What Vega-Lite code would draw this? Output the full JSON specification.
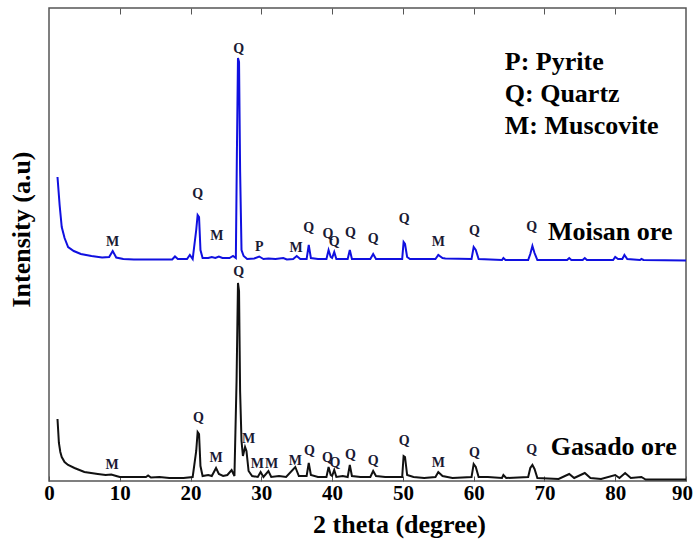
{
  "$schema": "https://vega.github.io/schema/vega-lite/v6.json",
  "width": 637,
  "height": 473,
  "autosize": "none",
  "padding": {"left": 49, "top": 8, "right": 8, "bottom": 67},
  "background": "white",
  "config": {"view": {"stroke": "#555555", "strokeWidth": 1.5}, "font": "Liberation Serif"},
  "datasets": {
    "xrd": [
      {"ore":"Moisan","t":1.2,"v":304},{"ore":"Moisan","t":1.5,"v":276},{"ore":"Moisan","t":1.8,"v":254},{"ore":"Moisan","t":2.2,"v":243},{"ore":"Moisan","t":2.7,"v":234},{"ore":"Moisan","t":3.5,"v":230},{"ore":"Moisan","t":4.5,"v":227},{"ore":"Moisan","t":6,"v":225},{"ore":"Moisan","t":7.5,"v":223.5},{"ore":"Moisan","t":8.5,"v":224},{"ore":"Moisan","t":9.0,"v":230},{"ore":"Moisan","t":9.5,"v":223.5},{"ore":"Moisan","t":10.5,"v":222},{"ore":"Moisan","t":12,"v":221.5},{"ore":"Moisan","t":15,"v":221.5},{"ore":"Moisan","t":17.4,"v":221.5},{"ore":"Moisan","t":17.8,"v":224.5},{"ore":"Moisan","t":18.2,"v":222},{"ore":"Moisan","t":19.5,"v":222},{"ore":"Moisan","t":19.9,"v":226},{"ore":"Moisan","t":20.3,"v":222},{"ore":"Moisan","t":20.8,"v":251},{"ore":"Moisan","t":21.0,"v":266},{"ore":"Moisan","t":21.2,"v":264},{"ore":"Moisan","t":21.4,"v":231},{"ore":"Moisan","t":21.7,"v":223},{"ore":"Moisan","t":22.5,"v":223},{"ore":"Moisan","t":23.0,"v":224},{"ore":"Moisan","t":23.5,"v":223},{"ore":"Moisan","t":24.0,"v":224.5},{"ore":"Moisan","t":24.5,"v":223},{"ore":"Moisan","t":25.5,"v":223},{"ore":"Moisan","t":26.0,"v":225},{"ore":"Moisan","t":26.4,"v":223},{"ore":"Moisan","t":26.55,"v":330},{"ore":"Moisan","t":26.7,"v":423},{"ore":"Moisan","t":26.85,"v":419},{"ore":"Moisan","t":27.0,"v":311},{"ore":"Moisan","t":27.2,"v":231},{"ore":"Moisan","t":27.5,"v":225},{"ore":"Moisan","t":28,"v":222},{"ore":"Moisan","t":29.0,"v":222.5},{"ore":"Moisan","t":29.7,"v":224.5},{"ore":"Moisan","t":30.3,"v":222},{"ore":"Moisan","t":31,"v":222.5},{"ore":"Moisan","t":32,"v":222},{"ore":"Moisan","t":33.1,"v":223},{"ore":"Moisan","t":33.6,"v":221.5},{"ore":"Moisan","t":34.5,"v":222},{"ore":"Moisan","t":35.0,"v":225},{"ore":"Moisan","t":35.5,"v":222},{"ore":"Moisan","t":36.4,"v":222},{"ore":"Moisan","t":36.7,"v":236},{"ore":"Moisan","t":37.0,"v":223},{"ore":"Moisan","t":38,"v":222},{"ore":"Moisan","t":39.2,"v":222},{"ore":"Moisan","t":39.5,"v":231},{"ore":"Moisan","t":39.8,"v":224},{"ore":"Moisan","t":40.0,"v":223},{"ore":"Moisan","t":40.3,"v":229},{"ore":"Moisan","t":40.6,"v":222},{"ore":"Moisan","t":42.2,"v":222},{"ore":"Moisan","t":42.5,"v":231},{"ore":"Moisan","t":42.8,"v":222},{"ore":"Moisan","t":45.4,"v":222},{"ore":"Moisan","t":45.8,"v":227},{"ore":"Moisan","t":46.2,"v":222},{"ore":"Moisan","t":49.9,"v":222},{"ore":"Moisan","t":50.1,"v":239},{"ore":"Moisan","t":50.3,"v":237},{"ore":"Moisan","t":50.6,"v":224},{"ore":"Moisan","t":51,"v":222},{"ore":"Moisan","t":54.6,"v":222},{"ore":"Moisan","t":55.0,"v":226},{"ore":"Moisan","t":55.6,"v":223},{"ore":"Moisan","t":56,"v":222.5},{"ore":"Moisan","t":59.7,"v":222},{"ore":"Moisan","t":60.0,"v":234},{"ore":"Moisan","t":60.3,"v":231},{"ore":"Moisan","t":60.7,"v":222},{"ore":"Moisan","t":64,"v":221},{"ore":"Moisan","t":64.2,"v":223},{"ore":"Moisan","t":64.5,"v":221},{"ore":"Moisan","t":67.7,"v":221},{"ore":"Moisan","t":68.0,"v":227},{"ore":"Moisan","t":68.3,"v":235},{"ore":"Moisan","t":68.6,"v":228},{"ore":"Moisan","t":69.0,"v":221},{"ore":"Moisan","t":73.2,"v":221},{"ore":"Moisan","t":73.5,"v":223},{"ore":"Moisan","t":73.8,"v":221},{"ore":"Moisan","t":75.4,"v":221},{"ore":"Moisan","t":75.7,"v":223},{"ore":"Moisan","t":76,"v":221},{"ore":"Moisan","t":79.7,"v":221},{"ore":"Moisan","t":80.0,"v":224},{"ore":"Moisan","t":80.4,"v":222},{"ore":"Moisan","t":81.0,"v":222},{"ore":"Moisan","t":81.3,"v":226},{"ore":"Moisan","t":81.7,"v":222},{"ore":"Moisan","t":83.5,"v":221},{"ore":"Moisan","t":83.7,"v":222},{"ore":"Moisan","t":84,"v":221},{"ore":"Moisan","t":90,"v":220.5},
      {"ore":"Gasado","t":1.2,"v":62},{"ore":"Gasado","t":1.4,"v":38},{"ore":"Gasado","t":1.6,"v":29},{"ore":"Gasado","t":1.8,"v":24},{"ore":"Gasado","t":2.2,"v":19},{"ore":"Gasado","t":2.7,"v":16},{"ore":"Gasado","t":3.6,"v":13},{"ore":"Gasado","t":5,"v":9},{"ore":"Gasado","t":6.9,"v":7},{"ore":"Gasado","t":8.0,"v":6},{"ore":"Gasado","t":8.8,"v":6.5},{"ore":"Gasado","t":9.5,"v":5},{"ore":"Gasado","t":10,"v":4},{"ore":"Gasado","t":12,"v":4},{"ore":"Gasado","t":13.7,"v":4},{"ore":"Gasado","t":14.0,"v":5.5},{"ore":"Gasado","t":14.4,"v":3.5},{"ore":"Gasado","t":15.6,"v":4},{"ore":"Gasado","t":17,"v":3},{"ore":"Gasado","t":19,"v":3},{"ore":"Gasado","t":20.3,"v":4},{"ore":"Gasado","t":20.8,"v":30},{"ore":"Gasado","t":21.0,"v":49},{"ore":"Gasado","t":21.2,"v":47},{"ore":"Gasado","t":21.4,"v":15},{"ore":"Gasado","t":21.7,"v":5},{"ore":"Gasado","t":22.5,"v":6},{"ore":"Gasado","t":23.0,"v":5},{"ore":"Gasado","t":23.6,"v":13},{"ore":"Gasado","t":24.0,"v":7},{"ore":"Gasado","t":24.6,"v":5},{"ore":"Gasado","t":25.2,"v":6},{"ore":"Gasado","t":25.8,"v":11},{"ore":"Gasado","t":26.2,"v":5},{"ore":"Gasado","t":26.5,"v":100},{"ore":"Gasado","t":26.7,"v":198},{"ore":"Gasado","t":26.85,"v":190},{"ore":"Gasado","t":27.0,"v":90},{"ore":"Gasado","t":27.2,"v":40},{"ore":"Gasado","t":27.4,"v":25},{"ore":"Gasado","t":27.7,"v":34},{"ore":"Gasado","t":27.9,"v":30},{"ore":"Gasado","t":28.2,"v":10},{"ore":"Gasado","t":28.7,"v":5},{"ore":"Gasado","t":29.5,"v":4},{"ore":"Gasado","t":29.9,"v":9},{"ore":"Gasado","t":30.3,"v":4},{"ore":"Gasado","t":31.0,"v":10},{"ore":"Gasado","t":31.4,"v":4},{"ore":"Gasado","t":32.5,"v":5},{"ore":"Gasado","t":33.5,"v":4},{"ore":"Gasado","t":34.8,"v":14},{"ore":"Gasado","t":35.3,"v":5},{"ore":"Gasado","t":36.4,"v":5},{"ore":"Gasado","t":36.7,"v":18},{"ore":"Gasado","t":37.0,"v":6},{"ore":"Gasado","t":38,"v":4},{"ore":"Gasado","t":39.2,"v":4},{"ore":"Gasado","t":39.5,"v":14},{"ore":"Gasado","t":39.8,"v":6},{"ore":"Gasado","t":40.0,"v":5},{"ore":"Gasado","t":40.3,"v":11},{"ore":"Gasado","t":40.6,"v":4},{"ore":"Gasado","t":41.5,"v":5},{"ore":"Gasado","t":42.2,"v":4},{"ore":"Gasado","t":42.5,"v":16},{"ore":"Gasado","t":42.8,"v":5},{"ore":"Gasado","t":44,"v":4},{"ore":"Gasado","t":45.4,"v":4},{"ore":"Gasado","t":45.8,"v":10},{"ore":"Gasado","t":46.2,"v":5},{"ore":"Gasado","t":47.5,"v":4},{"ore":"Gasado","t":49.9,"v":4},{"ore":"Gasado","t":50.1,"v":25},{"ore":"Gasado","t":50.3,"v":24},{"ore":"Gasado","t":50.6,"v":6},{"ore":"Gasado","t":51.5,"v":4},{"ore":"Gasado","t":53,"v":3},{"ore":"Gasado","t":54.6,"v":4},{"ore":"Gasado","t":55.0,"v":9},{"ore":"Gasado","t":55.6,"v":5},{"ore":"Gasado","t":57,"v":3},{"ore":"Gasado","t":59.7,"v":4},{"ore":"Gasado","t":60.0,"v":17},{"ore":"Gasado","t":60.3,"v":14},{"ore":"Gasado","t":60.7,"v":4},{"ore":"Gasado","t":62,"v":4},{"ore":"Gasado","t":64.0,"v":3},{"ore":"Gasado","t":64.2,"v":6},{"ore":"Gasado","t":64.6,"v":3},{"ore":"Gasado","t":67.7,"v":4},{"ore":"Gasado","t":68.0,"v":13},{"ore":"Gasado","t":68.3,"v":16},{"ore":"Gasado","t":68.6,"v":12},{"ore":"Gasado","t":69.0,"v":3},{"ore":"Gasado","t":72,"v":2},{"ore":"Gasado","t":73.5,"v":7},{"ore":"Gasado","t":74.2,"v":3},{"ore":"Gasado","t":75.7,"v":8},{"ore":"Gasado","t":76.5,"v":3},{"ore":"Gasado","t":78,"v":2},{"ore":"Gasado","t":80.0,"v":6},{"ore":"Gasado","t":80.6,"v":3},{"ore":"Gasado","t":81.4,"v":8},{"ore":"Gasado","t":82.2,"v":3},{"ore":"Gasado","t":83.7,"v":4},{"ore":"Gasado","t":84.3,"v":1.5},{"ore":"Gasado","t":90,"v":1.5}
    ],
    "peaks": [
      {"t":9.0,"v":239,"s":"M"},{"t":21.0,"v":287,"s":"Q"},{"t":23.7,"v":245,"s":"M"},{"t":26.8,"v":432,"s":"Q"},{"t":29.7,"v":234,"s":"P"},{"t":34.9,"v":233,"s":"M"},{"t":36.7,"v":253,"s":"Q"},{"t":39.4,"v":247,"s":"Q"},{"t":40.3,"v":239,"s":"Q"},{"t":42.6,"v":248,"s":"Q"},{"t":45.8,"v":242,"s":"Q"},{"t":50.2,"v":262,"s":"Q"},{"t":55.0,"v":239,"s":"M"},{"t":60.1,"v":250,"s":"Q"},{"t":68.2,"v":254,"s":"Q"},
      {"t":8.9,"v":16,"s":"M"},{"t":21.1,"v":63,"s":"Q"},{"t":23.6,"v":23,"s":"M"},{"t":26.8,"v":209,"s":"Q"},{"t":28.2,"v":42,"s":"M"},{"t":29.45,"v":17,"s":"M"},{"t":31.45,"v":17,"s":"M"},{"t":34.8,"v":20,"s":"M"},{"t":36.8,"v":30,"s":"Q"},{"t":39.35,"v":23,"s":"Q"},{"t":40.4,"v":18,"s":"Q"},{"t":42.6,"v":26,"s":"Q"},{"t":45.8,"v":20,"s":"Q"},{"t":50.2,"v":40,"s":"Q"},{"t":55.0,"v":18,"s":"M"},{"t":60.1,"v":28,"s":"Q"},{"t":68.2,"v":31,"s":"Q"}
    ],
    "notes": [
      {"t":64.4,"v":411,"s":"P: Pyrite"},
      {"t":64.4,"v":379,"s":"Q: Quartz"},
      {"t":64.4,"v":347,"s":"M: Muscovite"},
      {"t":70.5,"v":241,"s":"Moisan ore"},
      {"t":70.9,"v":26,"s":"Gasado ore"}
    ]
  },
  "layer": [
    {
      "data": {"name": "xrd"},
      "mark": {"type": "line", "strokeWidth": 2},
      "encoding": {
        "x": {"field": "t", "type": "quantitative", "scale": {"domain": [0, 90], "nice": false},
          "axis": {"orient": "bottom", "values": [0,10,20,30,40,50,60,70,80,90], "tickSize": -5, "tickColor": "#555555", "labelPadding": 6,
            "labelFont": "Liberation Serif", "labelFontWeight": "bold", "labelFontSize": 21, "labelColor": "#000000", "labelFlush": false,
            "labelOffset": {"condition": {"test": "datum.value == 90", "value": -4}, "value": 0},
            "domain": false, "grid": false, "title": "2 theta (degree)", "titleFont": "Liberation Serif", "titleFontSize": 26, "titleFontWeight": "bold",
            "titleColor": "#000000", "titleX": 350, "titleY": 51, "titleBaseline": "alphabetic", "titleAlign": "center"}},
        "y": {"field": "v", "type": "quantitative", "scale": {"domain": [0, 473], "nice": false},
          "axis": {"ticks": false, "labels": false, "domain": false, "grid": false, "title": "Intensity (a.u)", "titleFont": "Liberation Serif",
            "titleFontSize": 26, "titleFontWeight": "bold", "titleColor": "#000000", "titleX": -20, "titleY": 221, "titleAngle": -90,
            "titleAlign": "center", "titleBaseline": "alphabetic"}},
        "color": {"field": "ore", "type": "nominal", "scale": {"domain": ["Moisan", "Gasado"], "range": ["#1010e0", "#111111"]}, "legend": null}
      }
    },
    {
      "data": {"name": "peaks"},
      "mark": {"type": "text", "font": "Liberation Serif", "fontWeight": "bold", "fontSize": 14, "color": "#1a1a33", "baseline": "middle", "align": "center"},
      "encoding": {
        "x": {"field": "t", "type": "quantitative", "axis": {"orient": "top", "values": [10,20,30,40,50,60,70,80], "tickSize": -6, "tickColor": "#555555", "labels": false, "domain": false, "grid": false, "title": null}},
        "y": {"field": "v", "type": "quantitative"},
        "text": {"field": "s"}
      }
    },
    {
      "data": {"name": "notes"},
      "mark": {"type": "text", "font": "Liberation Serif", "fontWeight": "bold", "fontSize": 26, "color": "#000000", "baseline": "alphabetic", "align": "left"},
      "encoding": {
        "x": {"field": "t", "type": "quantitative", "axis": null},
        "y": {"field": "v", "type": "quantitative"},
        "text": {"field": "s"}
      }
    }
  ],
  "resolve": {"axis": {"x": "independent"}}
}
